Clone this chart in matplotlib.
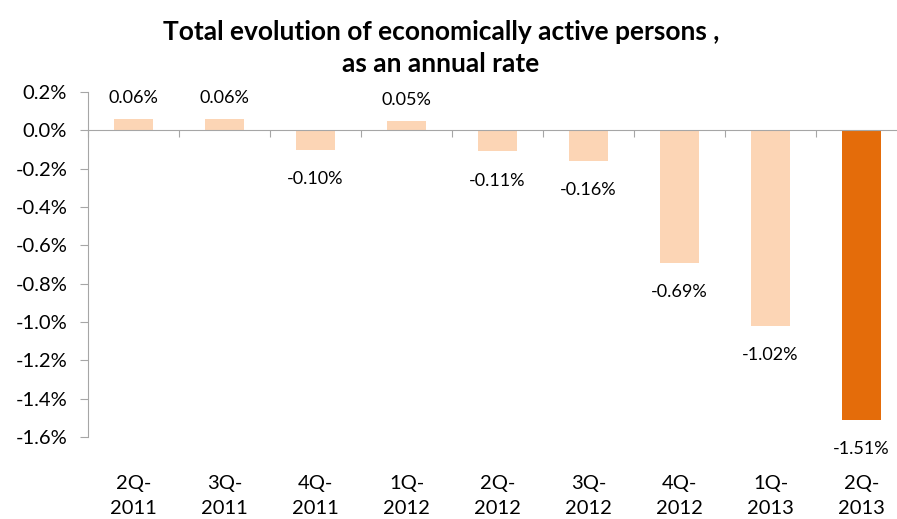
import numpy as np
import matplotlib
matplotlib.use("Agg")
import matplotlib.pyplot as plt
import matplotlib.transforms as mtransforms

plt.rcParams['font.family'] = ['Lato', 'DejaVu Sans']

quarters = ['2Q-\n2011', '3Q-\n2011', '4Q-\n2011', '1Q-\n2012', '2Q-\n2012',
            '3Q-\n2012', '4Q-\n2012', '1Q-\n2013', '2Q-\n2013']
rates = [0.06, 0.06, -0.10, 0.05, -0.11, -0.16, -0.69, -1.02, -1.51]
yticks = [0.2, 0.0, -0.2, -0.4, -0.6, -0.8, -1.0, -1.2, -1.4, -1.6]

light = '#FCD5B5'
dark = '#E46C0A'
grey = '#A6A6A6'

fig = plt.figure(figsize=(8.97, 5.19), dpi=100)
ax = fig.add_axes([88 / 897, 1 - 437 / 519, 819 / 897, 345 / 519])

x = np.arange(len(rates))
colors = [light] * (len(rates) - 1) + [dark]
ax.bar(x, rates, width=0.43, color=colors, zorder=2)

ax.set_xlim(-0.5, len(rates) - 0.5)
ax.set_ylim(-1.6, 0.2)

# axes look
for s in ['top', 'right']:
    ax.spines[s].set_visible(False)
ax.spines['left'].set_color(grey)
ax.spines['bottom'].set_color(grey)
ax.spines['bottom'].set_position(('data', 0))
ax.spines['bottom'].set_zorder(3)

ax.set_yticks(yticks)
ax.set_yticklabels(['%.1f%%' % v for v in yticks])
ax.tick_params(axis='y', direction='out', length=6, color=grey, labelsize=14.5, pad=9)

# category ticks between bars on the zero line
ax.set_xticks(np.arange(len(rates) + 1) - 0.5)
ax.set_xticklabels([])
ax.tick_params(axis='x', direction='out', length=5, color=grey)

# category labels below the plot
trans = mtransforms.blended_transform_factory(ax.transData, fig.transFigure)
for i, q in enumerate(quarters):
    ax.text(i, 1 - 496 / 519, q, transform=trans, ha='center', va='center',
            fontsize=14.5, linespacing=1.62)

# value labels
for i, v in enumerate(rates):
    off = 15 if v > 0 else -21
    ax.annotate('%.2f%%' % v, (i, v), xytext=(0, off), textcoords='offset points',
                ha='center', va='center', fontsize=13, annotation_clip=False)

fig.text(441 / 897, 1 - 48 / 519, 'Total evolution of economically active persons ,\nas an annual rate',
         ha='center', va='center', fontsize=19, fontweight='bold', linespacing=1.42)

fig.savefig('out.png', dpi=100)
